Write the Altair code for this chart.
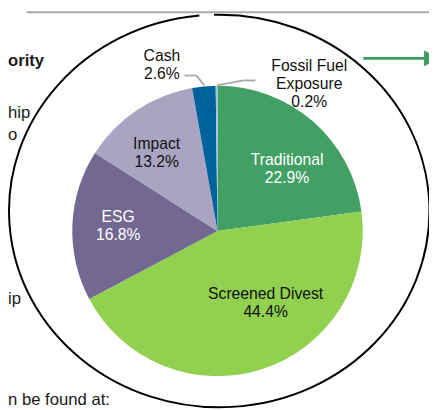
import math
import altair as alt
import pandas as pd

# ---- data ----
categories = ["Traditional", "Screened Divest", "ESG", "Impact", "Cash", "Fossil Fuel Exposure"]
shares = [22.9, 44.4, 16.8, 13.2, 2.6, 0.2]
label_names = ["Traditional", "Screened Divest", "ESG", "Impact", "Cash", "Fossil Fuel\nExposure"]
colors = ["#43a065", "#92d050", "#736891", "#a9a4c1", "#00629b", "#a9c4e6"]
label_colors = ["#ffffff", "#111111", "#ffffff", "#111111", "#111111", "#111111"]
side_texts = ["ority", "hip", "o", "ip", "n be found at:"]

labels = [f"{n}\n{s:.1f}%" for n, s in zip(label_names, shares)]
df = pd.DataFrame({"idx": list(range(len(categories))), "category": categories,
                   "share": shares, "label": labels})

total = sum(shares)
theta_scale = alt.Scale(domain=[0, total], range=[0, 2 * math.pi])

CX, CY = 213.5, 223.3   # pie centre (chart px)
R = 148

base = (alt.Chart(df)
        .transform_stack(stack="share", as_=["t0", "t1"], groupby=[],
                         sort=[alt.SortField("idx", order="ascending")])
        .transform_calculate(mid="(datum.t0 + datum.t1) / 2"))

pie = base.mark_arc(radius=R).encode(
    theta=alt.Theta("t0:Q", scale=theta_scale, stack=None),
    theta2="t1:Q",
    color=alt.Color("category:N", scale=alt.Scale(domain=categories, range=colors), legend=None),
    x=alt.value(CX), y=alt.value(CY),
)

# label placement: (radius, dx, dy)
label_place = [(95, 8.3, -0.8), (90, 21.5, -21.2), (100, -1.3, -10.1),
               (100, -6.4, -5.5), (170, -40.7, -8.5), (150, 94.4, -18.0)]

layers = []
one = pd.DataFrame({"a": [0]})

# outer ellipse with small gap at the top
ellipse_path = "M -0.0243 -0.9334 A 1 0.9337 0 1 1 -0.0943 -0.9295"
ellipse = alt.Chart(one).mark_point(
    shape=ellipse_path, size=183527, filled=False, stroke="#000000",
    strokeWidth=2, opacity=1
).encode(x=alt.value(215.2), y=alt.value(203))
layers.append(ellipse)

# top grey line
layers.append(alt.Chart(one).mark_rule(color="#a6acac", strokeWidth=2).encode(
    x=alt.value(19), x2=alt.value(429), y=alt.value(0.5)))

# green arrow
layers.append(alt.Chart(one).mark_rule(color="#3d9b5f", strokeWidth=3).encode(
    x=alt.value(362), x2=alt.value(426), y=alt.value(47.5)))
layers.append(alt.Chart(one).mark_point(
    shape="M -1 -1 L 1 0 L -1 1 Z", size=256, filled=True, color="#3d9b5f", opacity=1
).encode(x=alt.value(432), y=alt.value(47.5)))

layers.append(pie)

# leader lines
for (x1, y1, x2, y2) in [(180, 65, 192, 65), (192, 65, 200, 75),
                         (213, 75, 240, 70), (240, 70, 252, 70)]:
    layers.append(alt.Chart(one).mark_rule(color="#a6a6a6", strokeWidth=1.8).encode(
        x=alt.value(x1), y=alt.value(y1), x2=alt.value(x2), y2=alt.value(y2)))

for i, (rad, dx, dy) in enumerate(label_place):
    layers.append(
        base.transform_filter(alt.datum.idx == i).mark_text(
            radius=rad, dx=dx, dy=dy, fontSize=16, font="Liberation Sans",
            lineBreak="\n", lineHeight=18.4, align="center", baseline="middle",
            color=label_colors[i]
        ).encode(theta=alt.Theta("mid:Q", scale=theta_scale, stack=None),
                 text="label:N", x=alt.value(CX), y=alt.value(CY))
    )

# text fragments from the surrounding slide (shifted inside the page margin)
side_place = [(0, 55.3, "bold"), (0, 108, "normal"), (0, 131, "normal"),
              (0, 297.7, "normal"), (0, 400.5, "normal")]
for t, (sx, sy, fw) in zip(side_texts, side_place):
    layers.append(alt.Chart(pd.DataFrame({"t": [t]})).mark_text(
        align="left", baseline="alphabetic", fontSize=17, font="Liberation Sans",
        fontWeight=fw, color="#1a1a1a"
    ).encode(text="t:N", x=alt.value(sx), y=alt.value(sy)))

chart = alt.layer(*layers).properties(
    width=429, height=402, autosize=alt.AutoSizeParams(type="none"), padding=0
).configure_view(strokeWidth=0)

chart.save("out.html", embed_options={"renderer": "svg", "actions": False})
